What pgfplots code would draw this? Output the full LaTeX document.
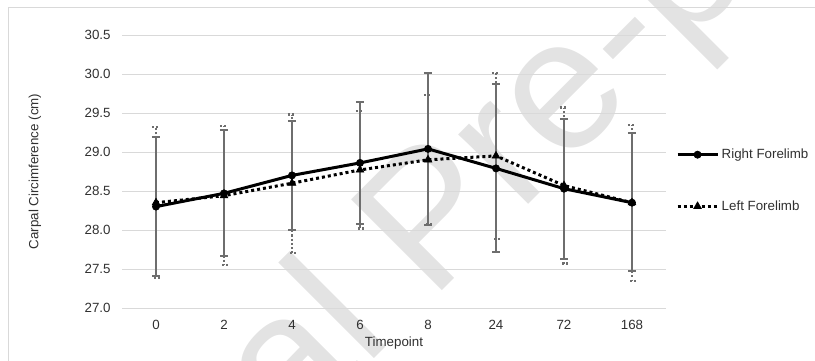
\documentclass[border=0pt]{standalone}
\usepackage{pgfplots}
\pgfplotsset{compat=1.18}
\usepackage{fontspec}
\setmainfont{Liberation Sans}
\definecolor{gridc}{HTML}{D9D9D9}
\definecolor{errc}{HTML}{6E6E6E}
\definecolor{wm}{HTML}{E3E3E3}
\definecolor{framec}{HTML}{D9D9D9}
\definecolor{txt}{HTML}{303030}

\pgfplotstableread{
x y ep em
0 28.30 0.89 0.89
1 28.47 0.81 0.80
2 28.70 0.70 0.70
3 28.86 0.78 0.78
4 29.04 0.97 0.98
5 28.79 1.08 1.07
6 28.53 0.89 0.90
7 28.35 0.89 0.88
}\rightlimb

\pgfplotstableread{
x y ep em
0 28.35 0.97 0.97
1 28.44 0.89 0.89
2 28.60 0.88 0.89
3 28.77 0.76 0.75
4 28.90 0.83 0.83
5 28.95 1.06 1.06
6 28.57 1.00 1.00
7 28.35 1.00 1.00
}\leftlimb

\begin{document}
\begin{tikzpicture}
\useasboundingbox (0,0) rectangle (611.25pt,270.75pt);
\begin{scope}[text=wm, font=\fontsize{140}{140}\selectfont]
\node[rotate=45, anchor=base west, inner sep=0pt] at (323.7pt,44.7pt) {Pre-proof};
\node[rotate=45, anchor=base east, inner sep=0pt] at (323.7pt,44.7pt) {Journal\hspace*{0.278em}};
\end{scope}
\draw[framec, line width=0.75pt] (6pt,-10pt) -- (6pt,264.75pt) -- (620pt,264.75pt);
\begin{axis}[
  at={(91.5pt,39.75pt)}, anchor=south west,
  scale only axis, width=408pt, height=204.75pt,
  xmin=-0.5, xmax=7.5, ymin=27, ymax=30.5,
  xtick={0,1,2,3,4,5,6,7}, xticklabels={0,2,4,6,8,24,72,168},
  ytick={27,27.5,28,28.5,29,29.5,30,30.5},
  ymajorgrids, grid style={gridc, line width=0.75pt},
  axis line style={draw=none},
  major tick length=0pt,
  tick style={draw=none},
  /pgf/number format/assume math mode=true,
  yticklabel style={/pgf/number format/fixed, /pgf/number format/fixed zerofill, /pgf/number format/precision=1, xshift=-5pt},
  every tick label/.append style={font=\fontsize{10}{12}\selectfont, text=txt},
  xticklabel style={yshift=-5.7pt},
  xlabel={Timepoint},
  ylabel={Carpal Circimference (cm)},
  label style={font=\fontsize{10}{12}\selectfont, text=txt},
  xlabel style={at={(axis description cs:0.5,-0.128)}, anchor=center},
  ylabel style={at={(axis description cs:-0.16,0.5)}, anchor=center},
  legend cell align=left,
  legend style={at={(axis description cs:1.018,0.467)}, anchor=west, draw=none, fill=none,
    row sep=26pt, font=\fontsize{10}{12}\selectfont, text=txt, inner sep=0pt},
  legend image code/.code={\draw[mark repeat=2, mark phase=2] plot coordinates {(0pt,0pt) (15pt,0pt) (30pt,0pt)};},
]
\addplot[black, line width=2.25pt, mark=*, mark size=2.7pt, mark options={solid, line width=0.5pt},
  error bars/.cd, y dir=both, y explicit,
  error bar style={errc, line width=1.7pt, solid},
  error mark options={errc, line width=1.6pt, mark size=3pt, solid, rotate=90}]
  table[x=x, y=y, y error plus=ep, y error minus=em] {\rightlimb};
\addlegendentry{Right Forelimb}
\addplot[black, line width=2.25pt, dash pattern=on 2.25pt off 2.25pt, mark=triangle*, mark size=3.3pt, mark options={solid, line width=0.5pt},
  error bars/.cd, y dir=both, y explicit,
  error bar style={errc, line width=1.7pt, dash pattern=on 1.6pt off 1.6pt},
  error mark options={errc, line width=1.6pt, mark size=3pt, rotate=90, dash pattern=on 1.6pt off 1.6pt}]
  table[x=x, y=y, y error plus=ep, y error minus=em] {\leftlimb};
\addlegendentry{Left Forelimb}
\end{axis}
\end{tikzpicture}
\end{document}
